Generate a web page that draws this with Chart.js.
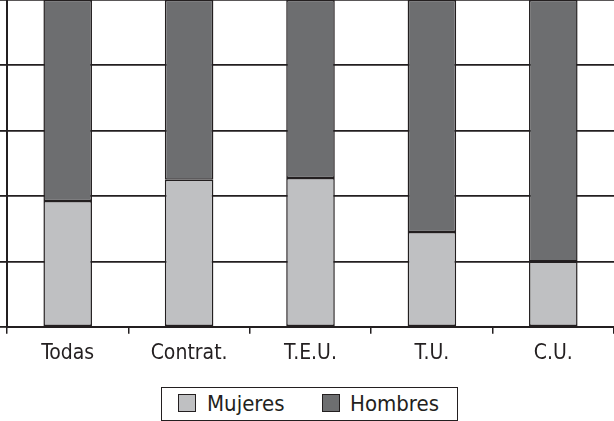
<!DOCTYPE html>
<html><head><meta charset="utf-8">
<script src="https://cdn.jsdelivr.net/npm/chart.js@4.4.0/dist/chart.umd.min.js"></script>
<style>
html,body{margin:0;padding:0;background:#fff;width:614px;height:421px;overflow:hidden;}
#wrap{position:absolute;left:0;top:0;width:614px;height:373px;}
#legend{position:absolute;left:161px;top:387px;width:297px;height:34px;border:1.5px solid #231f20;box-sizing:border-box;font-family:"DejaVu Sans Condensed","DejaVu Sans",sans-serif;font-size:22px;color:#231f20;}
.it{position:absolute;top:0;height:32px;line-height:32px;}
.sw{position:absolute;top:6px;width:18px;height:18px;border:1.5px solid #231f20;box-sizing:border-box;}
</style></head>
<body>
<div id="wrap"><canvas id="c"></canvas></div>
<div id="legend">
  <div class="sw" style="left:16px;background:#bfc0c2"></div><div class="it" style="left:45px">Mujeres</div>
  <div class="sw" style="left:160px;background:#6d6e70"></div><div class="it" style="left:188px">Hombres</div>
</div>
<script>
const categories = ["Todas","Contrat.","T.E.U.","T.U.","C.U."];
const mujeres = [38.5, 45, 45.5, 29, 20];
const hombres = [61.5, 55, 54.5, 71, 80];
const yTicks = [0,20,40,60,80,100];

const ink = "#231f20";
new Chart(document.getElementById('c'), {
  type: 'bar',
  data: {
    labels: categories,
    datasets: [
      {label:"Mujeres", data: mujeres, backgroundColor:"#bfc0c2", borderColor:ink, borderWidth:1.5, borderSkipped:false, barPercentage:0.8, categoryPercentage:0.5},
      {label:"Hombres", data: hombres, backgroundColor:"#6d6e70", borderColor:ink, borderWidth:1.5, borderSkipped:false, barPercentage:0.8, categoryPercentage:0.5}
    ]
  },
  options: {
    responsive:true, maintainAspectRatio:false, animation:false,
    layout:{padding:{top:0,left:0,right:0,bottom:0}},
    plugins:{legend:{display:false}, tooltip:{enabled:false}},
    scales:{
      x:{stacked:true,
        grid:{drawOnChartArea:false, drawTicks:true, tickLength:7, color:ink, lineWidth:1.5, offset:true},
        border:{display:true,color:ink,width:2},
        ticks:{color:ink, font:{family:'"DejaVu Sans Condensed","DejaVu Sans",sans-serif', size:21}, padding:7}
      },
      y:{stacked:true, min:0, max:100,
        afterBuildTicks:(s)=>{s.ticks = yTicks.map(v=>({value:v}));},
        grid:{color:ink, lineWidth:1.8, tickLength:7, drawTicks:true},
        border:{display:true,color:ink,width:2},
        ticks:{display:false}
      }
    }
  }
});
</script>
</body></html>
